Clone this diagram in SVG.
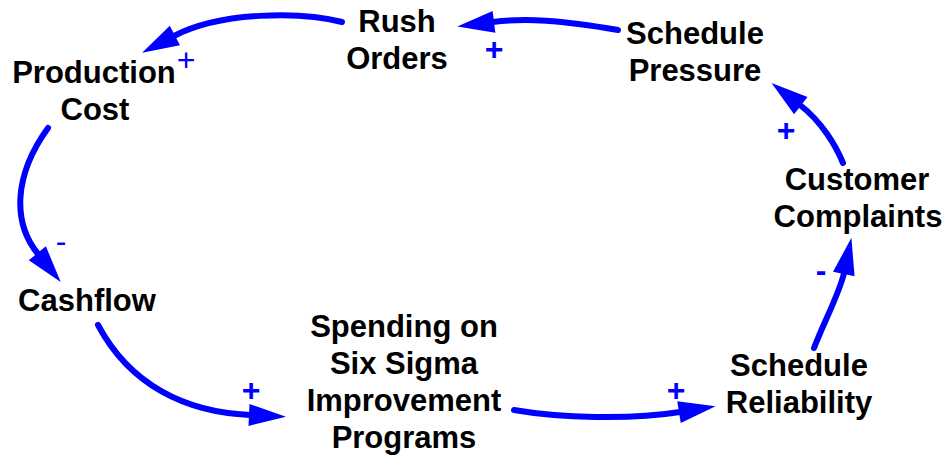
<svg xmlns="http://www.w3.org/2000/svg" width="947" height="457" viewBox="0 0 947 457">
<style>
.node text{font-family:"Liberation Sans",Arial,sans-serif;font-weight:bold;font-size:31px;fill:#000;text-anchor:middle}
.link{fill:none;stroke:#0000FF;stroke-width:6;stroke-linecap:round;stroke-linejoin:round;marker-end:url(#ah)}
.pol{font-family:"Liberation Sans",Arial,sans-serif;font-weight:bold;font-size:32px;fill:#0000FF;text-anchor:middle}
.pol.thin{font-weight:normal}
</style>
<defs>
<marker id="ah" markerUnits="userSpaceOnUse" markerWidth="40" markerHeight="24" refX="1" refY="12" orient="auto" overflow="visible">
<path d="M0,1 L37,12 L0,23 z" fill="#0000FF"/>
</marker>
</defs>
<rect width="947" height="457" fill="#fff"/>
<g id="connectors">
<g id="c-rush-production"><path class="link" d="M342,22 C300,11 220,12 174,36"/><text class="pol thin" x="186" y="71">+</text></g>
<g id="c-pressure-rush"><path class="link" d="M618,30 C560,20 525,18 493,22"/><text class="pol" x="494" y="60">+</text></g>
<g id="c-complaints-pressure"><path class="link" d="M843,163 C836,146 822,122 800,105"/><text class="pol" x="786" y="141">+</text></g>
<g id="c-reliability-complaints"><path class="link" d="M814,348 C824,322 840,292 844,273"/><text class="pol" x="821" y="281">-</text></g>
<g id="c-spending-reliability"><path class="link" d="M514,410 C560,418 630,420 680,412"/><text class="pol" x="676" y="401">+</text></g>
<g id="c-cashflow-spending"><path class="link" d="M98,325 C130,385 185,412 250,415"/><text class="pol" x="251" y="401">+</text></g>
<g id="c-production-cashflow"><path class="link" d="M48,128 C14,175 12,222 38,254"/><text class="pol thin" x="61" y="252">-</text></g>
</g>
<g id="rush-orders" class="node"><text x="397" y="32">Rush</text><text x="397" y="69">Orders</text></g>
<g id="schedule-pressure" class="node"><text x="695" y="44">Schedule</text><text x="695" y="81">Pressure</text></g>
<g id="production-cost" class="node"><text x="94" y="83">Production</text><text x="95" y="120">Cost</text></g>
<g id="customer-complaints" class="node"><text x="857" y="190">Customer</text><text x="858" y="227">Complaints</text></g>
<g id="cashflow" class="node"><text x="87" y="311">Cashflow</text></g>
<g id="spending" class="node"><text x="404" y="337">Spending on</text><text x="404" y="374">Six Sigma</text><text x="404" y="411">Improvement</text><text x="404" y="448">Programs</text></g>
<g id="schedule-reliability" class="node"><text x="799" y="376">Schedule</text><text x="799" y="413">Reliability</text></g>
</svg>
